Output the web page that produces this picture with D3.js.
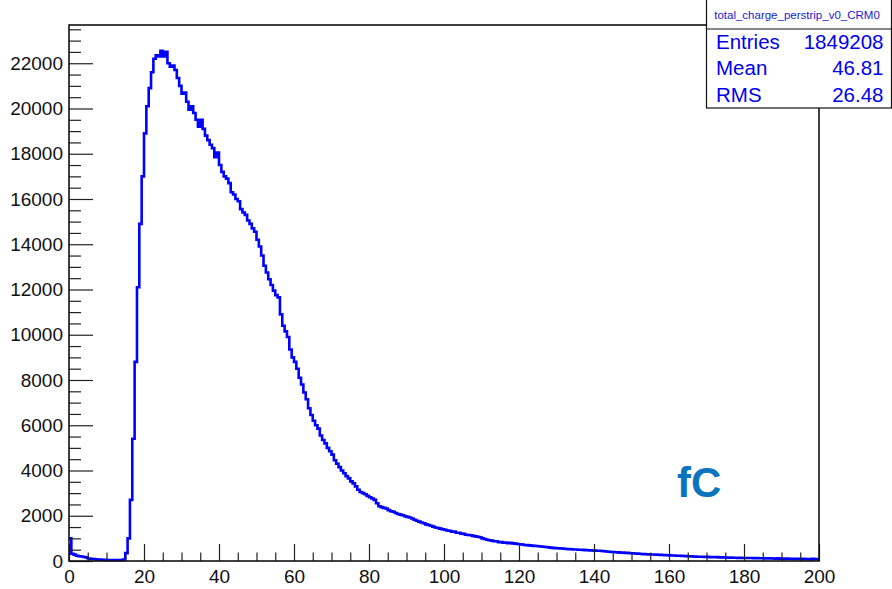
<!DOCTYPE html>
<html>
<head>
<meta charset="utf-8">
<script src="https://cdn.jsdelivr.net/npm/d3@7"></script>
<style>
  body { margin: 0; background: #fff; }
  svg { display: block; }
</style>
</head>
<body>
<div id="chart"></div>
<script>
// ROOT-style 1D histogram: total charge per strip (fC)
(function() {
  "use strict";

  // Histogram definition and bin contents
  const histRange = [0, 200];
  const binCounts = [
    1000, 320, 280, 230, 210, 200, 180, 160, 110, 100,
    90, 70, 60, 60, 50, 50, 40, 40, 40, 30,
    40, 30, 40, 60, 350, 1000, 2700, 5400, 8800, 12100,
    14900, 17000, 18900, 20100, 20900, 21600, 22200, 22350, 22300, 22550,
    22300, 22500, 22000, 21850, 21900, 21700, 21350, 21000, 20650, 20700,
    20300, 19950, 20100, 19800, 19500, 19200, 19500, 19100, 18800, 18600,
    18400, 18250, 17850, 18050, 17500, 17200, 17000, 16900, 16700, 16300,
    16200, 16000, 15900, 15550, 15400, 15300, 15050, 14900, 14700, 14550,
    14200, 13900, 13500, 13050, 12750, 12450, 12200, 11950, 11750, 11650,
    10900, 10400, 10150, 9900, 9350, 9000, 8800, 8500, 8100, 7800,
    7450, 7150, 6750, 6450, 6200, 6000, 5850, 5550, 5350, 5200,
    5000, 4850, 4700, 4450, 4300, 4150, 4000, 3880, 3750, 3650,
    3520, 3430, 3300, 3150, 3050, 3000, 2950, 2880, 2820, 2760,
    2700, 2550, 2420, 2380, 2350, 2320, 2250, 2200, 2180, 2120,
    2080, 2050, 2020, 1980, 1950, 1920, 1880, 1820, 1780, 1740,
    1700, 1670, 1620, 1590, 1560, 1520, 1480, 1460, 1430, 1400,
    1380, 1350, 1340, 1290, 1300, 1250, 1250, 1210, 1200, 1160,
    1150, 1140, 1110, 1090, 1070, 1050, 1000, 970, 940, 920,
    900, 870, 870, 830, 840, 810, 815, 790, 805, 780,
    770, 750, 740, 730, 710, 700, 690, 680, 670, 660,
    650, 640, 630, 620, 610, 590, 580, 570, 565, 560,
    550, 540, 530, 525, 520, 510, 505, 500, 495, 490,
    480, 475, 470, 465, 460, 455, 450, 440, 430, 420,
    410, 395, 400, 385, 380, 370, 375, 355, 360, 340,
    340, 330, 325, 320, 310, 305, 300, 295, 290, 285,
    280, 275, 270, 265, 260, 255, 250, 245, 240, 235,
    230, 225, 220, 215, 210, 205, 200, 195, 190, 190,
    185, 175, 185, 170, 170, 165, 170, 155, 165, 155,
    155, 150, 150, 145, 145, 140, 140, 135, 135, 130,
    130, 130, 125, 125, 120, 120, 120, 115, 115, 115,
    110, 105, 115, 100, 110, 95, 105, 100, 90, 100,
    90, 100, 85, 95, 80, 90, 70, 95, 85, 75
  ];
  const yMax = 23690;

  // Axis labels
  const xTickValues = [0, 20, 40, 60, 80, 100, 120, 140, 160, 180, 200];
  const yTickValues = [0, 2000, 4000, 6000, 8000, 10000, 12000, 14000, 16000, 18000, 20000, 22000];

  // Stats box contents
  const histName = "total_charge_perstrip_v0_CRM0";
  const statNames = ["Entries", "Mean", "RMS"];
  const statValues = ["1849208", "46.81", "26.48"];
  const unitLabel = "fC";

  // Page geometry
  const width = 892, height = 589;
  const margin = { top: 25, right: 73, bottom: 28, left: 69 };
  const font = "'Liberation Sans', Arial, Helvetica, sans-serif";

  const svg = d3.select("#chart").append("svg")
      .attr("width", width)
      .attr("height", height)
      .attr("viewBox", [0, 0, width, height])
      .style("font-family", font);

  const x = d3.scaleLinear().domain(histRange).range([margin.left, width - margin.right]);
  const y = d3.scaleLinear().domain([0, yMax]).range([height - margin.bottom, margin.top]);

  // Bin edges from the histogram range
  const binWidth = (histRange[1] - histRange[0]) / binCounts.length;
  const steps = binCounts.map((c, i) => [histRange[0] + i * binWidth, c]);
  steps.push([histRange[1], binCounts[binCounts.length - 1]]);

  // Histogram outline
  svg.append("path")
      .datum(steps)
      .attr("fill", "none")
      .attr("stroke", "#0000ff")
      .attr("stroke-width", 2.6)
      .attr("stroke-linejoin", "miter")
      .attr("d", d3.line().x(d => x(d[0])).y(d => y(d[1])).curve(d3.curveStepAfter));

  // Minor ticks (drawn inward, ROOT style)
  const yMinor = d3.range(0, yMax, 500).filter(v => v % 2000 !== 0);
  const xMinor = d3.range(0, 201, 5).filter(v => v % 20 !== 0);

  svg.append("g")
      .attr("transform", `translate(${margin.left},0)`)
      .call(d3.axisLeft(y).tickValues(yMinor).tickSizeInner(-12).tickSizeOuter(0).tickFormat(""))
      .call(g => g.select(".domain").remove())
      .call(g => g.selectAll("line").attr("stroke", "#222").attr("stroke-width", 1.2));

  svg.append("g")
      .attr("transform", `translate(0,${height - margin.bottom})`)
      .call(d3.axisBottom(x).tickValues(xMinor).tickSizeInner(-8.5).tickSizeOuter(0).tickFormat(""))
      .call(g => g.select(".domain").remove())
      .call(g => g.selectAll("line").attr("stroke", "#222").attr("stroke-width", 1.2));

  // Major ticks with labels
  svg.append("g")
      .attr("transform", `translate(${margin.left},0)`)
      .call(d3.axisLeft(y).tickValues(yTickValues).tickSizeInner(-24).tickSizeOuter(0).tickPadding(6).tickFormat(d3.format("d")))
      .call(g => g.select(".domain").remove())
      .call(g => g.selectAll("line").attr("stroke", "#222").attr("stroke-width", 1.2))
      .call(g => g.selectAll("text").attr("fill", "#111").style("font-size", "19px").style("font-family", font));

  svg.append("g")
      .attr("transform", `translate(0,${height - margin.bottom})`)
      .call(d3.axisBottom(x).tickValues(xTickValues).tickSizeInner(-17).tickSizeOuter(0).tickPadding(9).tickFormat(d3.format("d")))
      .call(g => g.select(".domain").remove())
      .call(g => g.selectAll("line").attr("stroke", "#222").attr("stroke-width", 1.2))
      .call(g => g.selectAll("text").attr("fill", "#111").style("font-size", "19px").style("font-family", font));

  // Frame
  svg.append("rect")
      .attr("x", x(histRange[0]))
      .attr("y", y(yMax))
      .attr("width", x(histRange[1]) - x(histRange[0]))
      .attr("height", y(0) - y(yMax))
      .attr("fill", "none")
      .attr("stroke", "#111")
      .attr("stroke-width", 1.6);

  // Unit label
  svg.append("text")
      .attr("x", 677)
      .attr("y", 497)
      .attr("fill", "#0a74bf")
      .style("font-size", "42px")
      .style("font-weight", "bold")
      .text(unitLabel);

  // Stats box
  const box = svg.append("g").attr("transform", "translate(706.5,0)");
  const boxW = 185, titleH = 29, boxH = 108;

  box.append("rect")
      .attr("x", 0).attr("y", -2)
      .attr("width", boxW).attr("height", boxH + 2)
      .attr("fill", "#fff")
      .attr("stroke", "#111")
      .attr("stroke-width", 1.2);

  box.append("line")
      .attr("x1", 0).attr("x2", boxW)
      .attr("y1", titleH).attr("y2", titleH)
      .attr("stroke", "#111")
      .attr("stroke-width", 1.2);

  box.append("text")
      .attr("x", boxW / 2 - 2)
      .attr("y", 19)
      .attr("text-anchor", "middle")
      .attr("fill", "#1a1acc")
      .style("font-size", "11.5px")
      .text(histName);

  const rows = box.selectAll("g.stat")
    .data(statNames.map((n, i) => [n, statValues[i]]))
    .join("g")
      .attr("class", "stat")
      .attr("transform", (d, i) => `translate(0,${49 + i * 26.3})`);

  rows.append("text")
      .attr("x", 9.5)
      .attr("fill", "#0000ee")
      .style("font-size", "20.5px")
      .text(d => d[0]);

  rows.append("text")
      .attr("x", 177)
      .attr("text-anchor", "end")
      .attr("fill", "#0000ee")
      .style("font-size", "20.5px")
      .text(d => d[1]);
})();
</script>
</body>
</html>
